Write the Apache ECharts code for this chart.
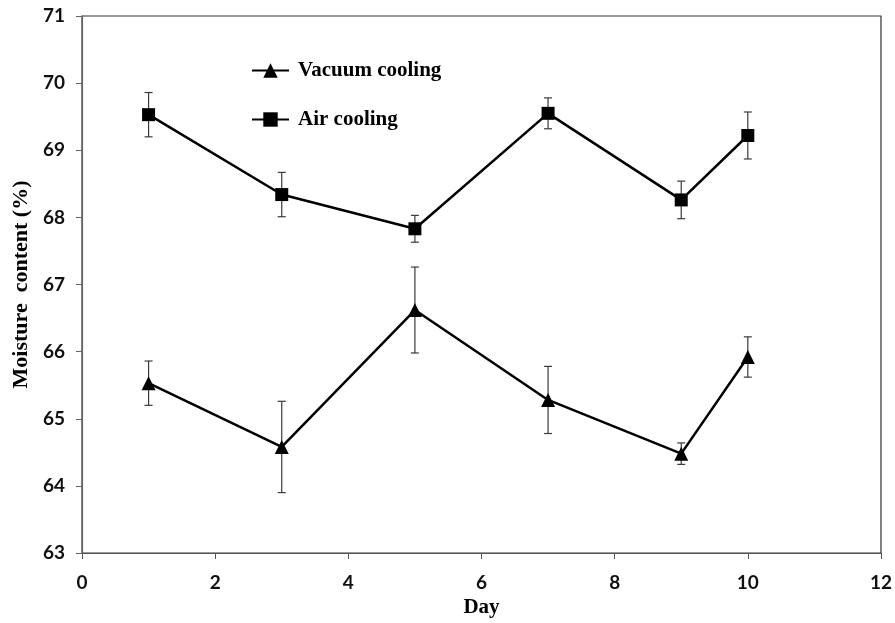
<!DOCTYPE html>
<html>
<head>
<meta charset="utf-8">
<script src="https://cdn.jsdelivr.net/npm/echarts@6/dist/echarts.min.js"></script>
<style>
  html, body { margin: 0; padding: 0; background: #fff; }
  #chart { width: 895px; height: 623px; }
</style>
</head>
<body>
<div id="chart"></div>
<script>
// Sampling days
const days = [1, 3, 5, 7, 9, 10];
// Mean moisture content (%) and standard deviation per series
const vacuumMean = [65.53, 64.58, 66.62, 65.28, 64.48, 65.92];
const vacuumErr  = [0.33, 0.68, 0.64, 0.50, 0.16, 0.30];
const airMean    = [69.53, 68.34, 67.83, 69.55, 68.26, 69.22];
const airErr     = [0.33, 0.33, 0.20, 0.23, 0.28, 0.35];
// Axis ticks
const xTicks = [0, 2, 4, 6, 8, 10, 12];
const yTicks = [63, 64, 65, 66, 67, 68, 69, 70, 71];

const serifBold = { fontFamily: 'Liberation Serif, Times New Roman, serif', fontWeight: 'bold' };
const tickFont = { fontFamily: 'Lato, Liberation Sans, Arial, sans-serif', fontWeight: 'bold', fontSize: 19, color: '#111' };

function pairs(mean) { return days.map((d, i) => [d, mean[i]]); }
function errRows(mean, err) { return days.map((d, i) => [d, mean[i] - err[i], mean[i] + err[i]]); }

function errorBarItem(params, api) {
  const x = api.value(0);
  const lo = api.coord([x, api.value(1)]);
  const hi = api.coord([x, api.value(2)]);
  const cap = 4;
  const style = { stroke: '#3a3a3a', lineWidth: 1.2 };
  return {
    type: 'group',
    children: [
      { type: 'line', shape: { x1: lo[0], y1: lo[1], x2: hi[0], y2: hi[1] }, style },
      { type: 'line', shape: { x1: hi[0] - cap, y1: hi[1], x2: hi[0] + cap, y2: hi[1] }, style },
      { type: 'line', shape: { x1: lo[0] - cap, y1: lo[1], x2: lo[0] + cap, y2: lo[1] }, style }
    ]
  };
}

const chart = echarts.init(document.getElementById('chart'), null, { renderer: 'canvas' });
chart.setOption({
  animation: false,
  backgroundColor: '#fff',
  grid: { left: 82, right: 14, top: 16, bottom: 68, show: true, borderColor: '#333', borderWidth: 1.2 },
  legend: {
    orient: 'vertical',
    left: 246,
    top: 55,
    itemWidth: 37,
    itemHeight: 18,
    itemGap: 28,
    data: ['Vacuum cooling', 'Air cooling'],
    textStyle: Object.assign({ fontSize: 21, color: '#000', padding: [0, 0, 0, 4] }, serifBold)
  },
  xAxis: {
    type: 'value',
    min: 0, max: 12, interval: 2,
    name: 'Day',
    nameLocation: 'middle',
    nameGap: 44,
    nameTextStyle: Object.assign({ fontSize: 21, color: '#000' }, serifBold),
    axisLine: { lineStyle: { color: '#555', width: 1.2 } },
    axisTick: { show: true, length: 6, lineStyle: { color: '#555' } },
    axisLabel: Object.assign({ margin: 20, formatter: v => xTicks.includes(v) ? String(v) : '' }, tickFont),
    splitLine: { show: false }
  },
  yAxis: {
    type: 'value',
    min: 63, max: 71, interval: 1,
    name: 'Moisture  content (%)',
    nameLocation: 'middle',
    nameGap: 49,
    nameTextStyle: Object.assign({ fontSize: 22, color: '#000' }, serifBold),
    axisLine: { show: true, lineStyle: { color: '#666', width: 1.2 } },
    axisTick: { show: true, length: 6, lineStyle: { color: '#666' } },
    axisLabel: Object.assign({ margin: 17, formatter: v => yTicks.includes(v) ? String(v) : '' }, tickFont),
    splitLine: { show: false }
  },
  series: [
    {
      name: 'Vacuum cooling',
      type: 'line',
      data: pairs(vacuumMean),
      symbol: 'triangle',
      symbolSize: 14,
      itemStyle: { color: '#000' },
      lineStyle: { color: '#000', width: 2.5 },
      z: 3
    },
    {
      name: 'Air cooling',
      type: 'line',
      data: pairs(airMean),
      symbol: 'rect',
      symbolSize: 13,
      itemStyle: { color: '#000' },
      lineStyle: { color: '#000', width: 2.5 },
      z: 3
    },
    {
      name: 'Vacuum cooling error',
      type: 'custom',
      renderItem: errorBarItem,
      data: errRows(vacuumMean, vacuumErr),
      z: 2,
      silent: true
    },
    {
      name: 'Air cooling error',
      type: 'custom',
      renderItem: errorBarItem,
      data: errRows(airMean, airErr),
      z: 2,
      silent: true
    }
  ]
});
</script>
</body>
</html>
